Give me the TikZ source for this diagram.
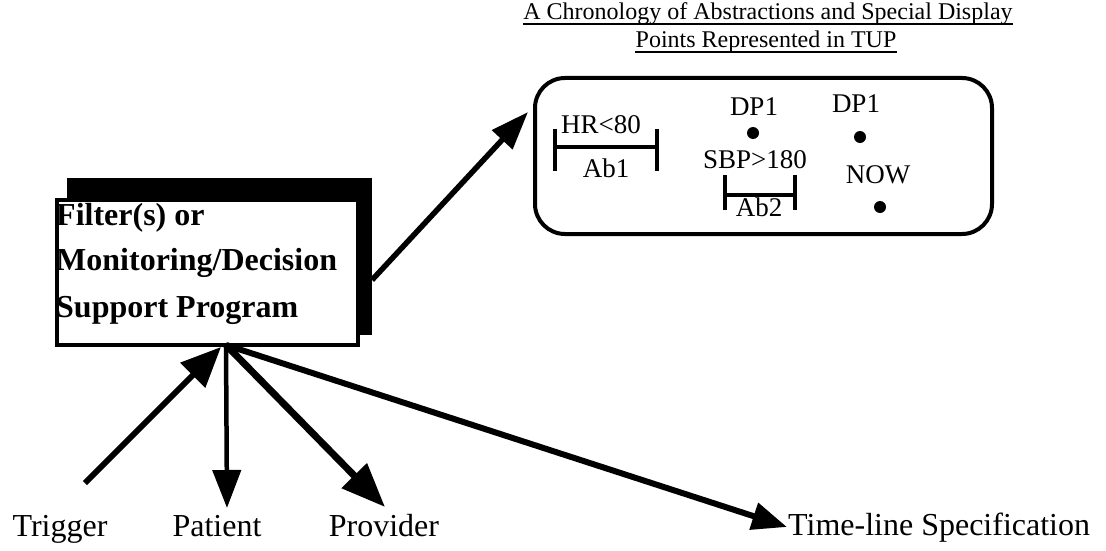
\documentclass[tikz,border=0pt]{standalone}
\usepackage{fontspec}
\setmainfont{Liberation Serif}
\usetikzlibrary{arrows.meta}
\tikzset{
  lbl/.style={inner sep=0pt, anchor=base, font=\fontsize{32}{38}\selectfont},
  inlbl/.style={inner sep=0pt, anchor=base, font=\fontsize{27}{32}\selectfont},
  ttl/.style={inner sep=0pt, anchor=base, font=\fontsize{24}{29}\selectfont},
  bigarrow/.style={line width=6pt, -{Triangle[length=40pt,width=34pt]}},
  interval/.style={line width=4.5pt},
  dpdot/.style={circle, fill=black, inner sep=0pt, minimum size=12pt},
}
\begin{document}
\begin{tikzpicture}[x=1pt,y=-1pt]
\useasboundingbox (0,0) rectangle (1106,551);
% title
\node[ttl] (t1) at (768,20) {A Chronology of Abstractions and Special Display};
\node[ttl] (t2) at (766,48) {Points Represented in TUP};
\draw[line width=1.5pt] ([yshift=-4pt]t1.base west) -- ([yshift=-4pt]t1.base east);
\draw[line width=1.5pt] ([yshift=-4pt]t2.base west) -- ([yshift=-4pt]t2.base east);
% main box with shadow
\node[fill=black, minimum width=305pt, minimum height=157pt, inner sep=0pt] (shadow) at (219.5,256.5) {};
\node[draw=black, fill=white, line width=3.5pt, minimum width=301pt, minimum height=145pt, inner sep=0pt] (prog) at (207.5,272.5) {};
\node[inner sep=0pt, anchor=base west, font=\bfseries\fontsize{32}{38}\selectfont] (l1) at (56,225) {Filter(s) or};
\node[inner sep=0pt, anchor=base west, font=\bfseries\fontsize{32}{38}\selectfont] (l2) at (56,270) {Monitoring/Decision};
\node[inner sep=0pt, anchor=base west, font=\bfseries\fontsize{32}{38}\selectfont] (l3) at (56,317) {Support Program};
% TUP box
\node[draw=black, line width=4pt, rounded corners=30pt, minimum width=457pt, minimum height=156pt, inner sep=0pt] (tup) at (763.5,156) {};
% Ab1
\coordinate (a1l) at (555,147);
\coordinate (a1r) at (657,147);
\draw[interval] (a1l) -- (a1r);
\draw[interval] ([yshift=-24pt]a1l) -- ([yshift=18pt]a1l);
\draw[interval] ([yshift=-24pt]a1r) -- ([yshift=18pt]a1r);
\node[inlbl] (hr) at (601,133) {HR<80};
\node[inlbl] (ab1) at (606,177) {Ab1};
% DP1 first
\node[inlbl] (dp1a) at (754,115) {DP1};
\node[dpdot] (d1) at (753,133) {};
\node[inlbl] (sbp) at (755,168) {SBP>180};
% Ab2
\coordinate (a2l) at (725,195);
\coordinate (a2r) at (795,195);
\draw[interval] (a2l) -- (a2r);
\draw[interval] ([yshift=-15pt]a2l) -- ([yshift=20pt]a2l);
\draw[interval] ([yshift=-15pt]a2r) -- ([yshift=20pt]a2r);
\node[inlbl] (ab2) at (759,216) {Ab2};
% DP1 second and NOW
\node[inlbl] (dp1b) at (856,113) {DP1};
\node[dpdot] (d2) at (860,137) {};
\node[inlbl] (now) at (878,183) {NOW};
\node[dpdot] (d3) at (880,207) {};
% bottom labels
\node[lbl] (trigger) at (60,536) {Trigger};
\node[lbl] (patient) at (217,536) {Patient};
\node[lbl] (provider) at (384,536) {Provider};
\node[lbl, anchor=base west] (timeline) at (788,535) {Time-line Specification};
% connectors
\coordinate (j) at (226,345);
\coordinate (trigtail) at (85,483);
\coordinate (trighead) at (221,347);
\coordinate (pattip) at (227,508);
\coordinate (provtip) at (385,507);
\coordinate (tltip) at (787,527);
\coordinate (uptail) at (372,280);
\coordinate (uptip) at (528,112);
\draw[bigarrow] (trigtail) -- (trighead);
\draw[line width=4.5pt, -{Triangle[length=38pt,width=28pt]}] (j) -- (pattip);
\draw[line width=7pt, -{Triangle[length=44pt,width=34pt]}] (j) -- (provtip);
\draw[line width=6pt, -{Triangle[length=35pt,width=27pt]}] (j) -- (tltip);
\draw[line width=5.5pt, -{Triangle[length=38pt,width=27pt]}] (uptail) -- (uptip);
\end{tikzpicture}
\end{document}
